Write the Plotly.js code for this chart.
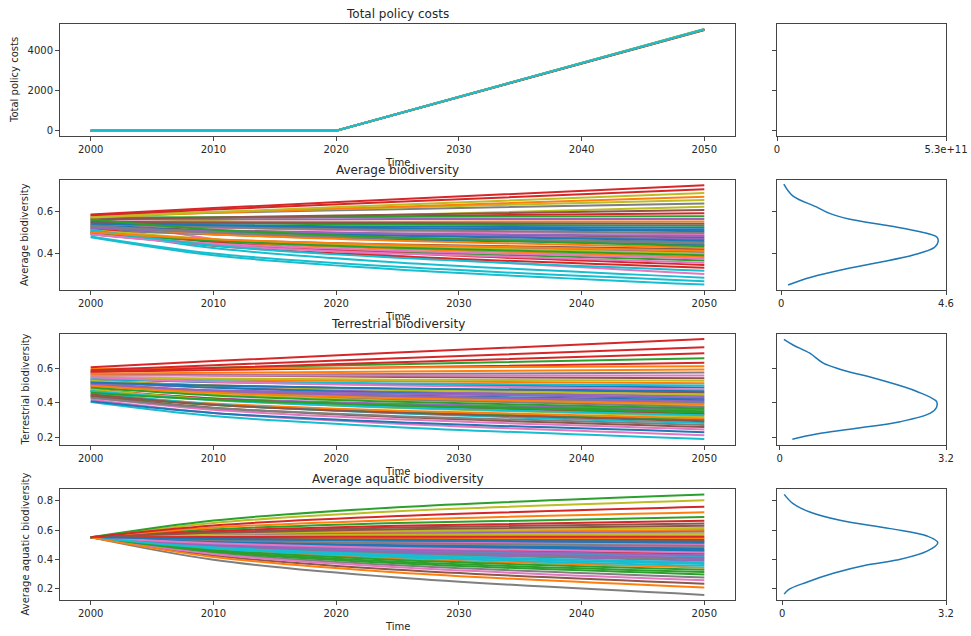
<!DOCTYPE html>
<html>
<head>
<meta charset="utf-8">
<script src="https://cdn.plot.ly/plotly-3.0.1.min.js"></script>
<style>
  html, body { margin: 0; padding: 0; background: #ffffff; }
  #chart { width: 971px; height: 636px; }
</style>
</head>
<body>
<div id="chart"></div>
<script>
// ---- Scenario outcomes over time ----
const years = [2000, 2010, 2025, 2050];

// Total policy costs (one row per scenario: 2000, 2020, 2050)
const costYears = [2000, 2020, 2050];
const costLines = [
  [0, 0, 4985], [0, 0, 4995], [0, 0, 5005], [0, 0, 5010], [0, 0, 5020],
  [0, 0, 5025], [0, 0, 5030], [0, 0, 5035], [0, 0, 5040], [0, 0, 5030]
];

// Average biodiversity per scenario (2000, 2010, 2025, 2050)
const avgBioLines = [
  [0.520, 0.490, 0.466, 0.440], [0.550, 0.550, 0.550, 0.551], [0.490, 0.443, 0.406, 0.366], [0.560, 0.567, 0.576, 0.590],
  [0.500, 0.464, 0.435, 0.405], [0.530, 0.509, 0.493, 0.475], [0.570, 0.468, 0.388, 0.302], [0.510, 0.489, 0.472, 0.454],
  [0.540, 0.558, 0.582, 0.620], [0.476, 0.391, 0.324, 0.252], [0.530, 0.523, 0.518, 0.512], [0.500, 0.456, 0.420, 0.383],
  [0.550, 0.542, 0.536, 0.530], [0.520, 0.454, 0.401, 0.345], [0.560, 0.561, 0.562, 0.563], [0.490, 0.463, 0.442, 0.419],
  [0.540, 0.521, 0.505, 0.489], [0.580, 0.592, 0.609, 0.636], [0.510, 0.467, 0.434, 0.398], [0.480, 0.399, 0.336, 0.268],
  [0.550, 0.533, 0.519, 0.504], [0.530, 0.490, 0.459, 0.426], [0.570, 0.571, 0.573, 0.576], [0.500, 0.436, 0.386, 0.332],
  [0.520, 0.500, 0.485, 0.468], [0.560, 0.570, 0.583, 0.605], [0.490, 0.446, 0.412, 0.375], [0.540, 0.523, 0.510, 0.496],
  [0.580, 0.596, 0.617, 0.652], [0.510, 0.425, 0.357, 0.285], [0.530, 0.504, 0.483, 0.461], [0.570, 0.592, 0.621, 0.668],
  [0.500, 0.459, 0.426, 0.391], [0.580, 0.607, 0.644, 0.703], [0.520, 0.506, 0.494, 0.482], [0.550, 0.546, 0.543, 0.540],
  [0.490, 0.439, 0.399, 0.356], [0.530, 0.498, 0.474, 0.447], [0.570, 0.595, 0.630, 0.685], [0.510, 0.437, 0.379, 0.318],
  [0.540, 0.533, 0.527, 0.521], [0.500, 0.467, 0.440, 0.412], [0.560, 0.512, 0.474, 0.433], [0.584, 0.614, 0.656, 0.722]
];

// Terrestrial biodiversity per scenario
const terrBioLines = [
  [0.500, 0.468, 0.443, 0.416], [0.550, 0.537, 0.526, 0.515], [0.440, 0.388, 0.346, 0.302], [0.580, 0.592, 0.608, 0.634],
  [0.470, 0.428, 0.395, 0.360], [0.530, 0.503, 0.482, 0.459], [0.420, 0.341, 0.279, 0.212], [0.560, 0.564, 0.569, 0.577],
  [0.490, 0.450, 0.418, 0.384], [0.406, 0.324, 0.259, 0.190], [0.540, 0.521, 0.506, 0.490], [0.450, 0.397, 0.355, 0.311],
  [0.590, 0.605, 0.626, 0.660], [0.480, 0.425, 0.382, 0.336], [0.520, 0.490, 0.466, 0.441], [0.570, 0.560, 0.552, 0.544],
  [0.430, 0.360, 0.305, 0.246], [0.510, 0.468, 0.435, 0.400], [0.550, 0.542, 0.536, 0.529], [0.460, 0.393, 0.340, 0.283],
  [0.530, 0.490, 0.458, 0.424], [0.600, 0.603, 0.607, 0.614], [0.470, 0.422, 0.384, 0.344], [0.580, 0.604, 0.637, 0.690],
  [0.500, 0.474, 0.454, 0.432], [0.440, 0.372, 0.318, 0.260], [0.560, 0.560, 0.560, 0.560], [0.520, 0.465, 0.422, 0.376],
  [0.480, 0.419, 0.371, 0.320], [0.540, 0.526, 0.514, 0.502], [0.410, 0.342, 0.288, 0.230], [0.570, 0.576, 0.583, 0.595],
  [0.490, 0.444, 0.407, 0.368], [0.590, 0.620, 0.660, 0.725], [0.510, 0.471, 0.441, 0.408], [0.450, 0.390, 0.343, 0.293],
  [0.550, 0.523, 0.502, 0.479], [0.430, 0.370, 0.323, 0.272], [0.530, 0.500, 0.476, 0.450], [0.470, 0.416, 0.373, 0.328],
  [0.520, 0.501, 0.485, 0.469], [0.500, 0.459, 0.427, 0.392], [0.460, 0.419, 0.387, 0.352], [0.608, 0.644, 0.694, 0.773]
];

// Average aquatic biodiversity per scenario
const aquaBioLines = [
  [0.550, 0.513, 0.484, 0.455], [0.550, 0.570, 0.586, 0.601], [0.550, 0.457, 0.383, 0.312], [0.550, 0.545, 0.540, 0.536],
  [0.550, 0.487, 0.437, 0.389], [0.550, 0.587, 0.617, 0.646], [0.550, 0.523, 0.502, 0.482], [0.550, 0.443, 0.358, 0.275],
  [0.550, 0.556, 0.561, 0.565], [0.550, 0.499, 0.458, 0.419], [0.550, 0.534, 0.521, 0.509], [0.550, 0.469, 0.404, 0.342],
  [0.550, 0.605, 0.648, 0.690], [0.550, 0.506, 0.471, 0.437], [0.550, 0.565, 0.577, 0.588], [0.550, 0.426, 0.327, 0.232],
  [0.550, 0.531, 0.515, 0.500], [0.550, 0.491, 0.444, 0.399], [0.550, 0.575, 0.596, 0.615], [0.550, 0.479, 0.422, 0.367],
  [0.550, 0.520, 0.496, 0.473], [0.550, 0.548, 0.547, 0.545], [0.550, 0.463, 0.395, 0.328], [0.550, 0.594, 0.630, 0.664],
  [0.550, 0.502, 0.465, 0.428], [0.550, 0.541, 0.534, 0.527], [0.550, 0.435, 0.344, 0.255], [0.550, 0.527, 0.509, 0.491],
  [0.550, 0.560, 0.568, 0.576], [0.550, 0.483, 0.430, 0.378], [0.550, 0.516, 0.490, 0.464], [0.550, 0.617, 0.670, 0.722],
  [0.550, 0.451, 0.372, 0.295], [0.550, 0.552, 0.554, 0.555], [0.550, 0.495, 0.451, 0.409], [0.550, 0.581, 0.606, 0.630],
  [0.550, 0.509, 0.477, 0.446], [0.550, 0.396, 0.274, 0.155], [0.550, 0.649, 0.729, 0.805], [0.550, 0.474, 0.414, 0.355],
  [0.550, 0.538, 0.528, 0.518], [0.550, 0.415, 0.309, 0.205], [0.550, 0.665, 0.757, 0.845], [0.550, 0.632, 0.697, 0.760]
];

// Kernel density of the end-state values (value on y, density on x)
const avgBioKdeValue   = [0.728, 0.671, 0.620, 0.589, 0.561, 0.529, 0.502, 0.476, 0.455, 0.428, 0.392, 0.352, 0.313, 0.281, 0.250];
const avgBioKdeDensity = [0.07, 0.33, 0.98, 1.35, 1.92, 3.04, 3.88, 4.35, 4.38, 4.28, 3.69, 2.57, 1.45, 0.70, 0.19];

const terrBioKdeValue   = [0.771, 0.738, 0.690, 0.632, 0.597, 0.535, 0.467, 0.408, 0.375, 0.341, 0.291, 0.252, 0.219, 0.189];
const terrBioKdeDensity = [0.083, 0.26, 0.58, 0.84, 1.16, 1.93, 2.64, 3.02, 3.02, 2.90, 2.32, 1.48, 0.71, 0.245];

const aquaBioKdeValue   = [0.845, 0.781, 0.724, 0.667, 0.610, 0.559, 0.514, 0.455, 0.394, 0.360, 0.303, 0.242, 0.190, 0.160];
const aquaBioKdeDensity = [0.04, 0.215, 0.54, 1.13, 2.11, 2.83, 3.04, 2.83, 2.24, 1.65, 1.00, 0.48, 0.12, 0.04];

// Axis labels and titles
const panelTitles = ['Total policy costs', 'Average biodiversity', 'Terrestrial biodiversity', 'Average aquatic biodiversity'];
const yearTicks = [2000, 2010, 2020, 2030, 2040, 2050];
const costTicks = [0, 2000, 4000];
const avgBioTicks = [0.4, 0.6];
const terrBioTicks = [0.2, 0.4, 0.6];
const aquaBioTicks = [0.2, 0.4, 0.6, 0.8];
const densityMax = [5.3e11, 4.6, 3.2, 3.2];
const densityMaxLabel = ['5.3e+11', '4.6', '3.2', '3.2'];

// ---- Drawing ----
const tab10 = ['#1f77b4', '#ff7f0e', '#2ca02c', '#d62728', '#9467bd',
               '#8c564b', '#e377c2', '#7f7f7f', '#bcbd22', '#17becf'];
const W = 971, H = 636;
const FONT = 'DejaVu Sans, Arial, sans-serif';
const TXT = '#262626';

const traces = [];
function addLines(xs, lines, xa, ya, width, spline) {
  lines.forEach((vals, i) => {
    traces.push({
      type: 'scatter', mode: 'lines', x: xs, y: vals,
      xaxis: xa, yaxis: ya, hoverinfo: 'skip', showlegend: false,
      line: { color: tab10[i % 10], width: width, shape: spline ? 'spline' : 'linear', smoothing: 0.9 }
    });
  });
}
function addKde(vals, dens, xa, ya) {
  traces.push({
    type: 'scatter', mode: 'lines', x: dens, y: vals,
    xaxis: xa, yaxis: ya, hoverinfo: 'skip', showlegend: false,
    line: { color: '#1f77b4', width: 1.5, shape: 'spline', smoothing: 1 }
  });
}

addLines(costYears, costLines, 'x', 'y', 2, false);
traces.push({ type: 'scatter', mode: 'lines', x: [], y: [], xaxis: 'x2', yaxis: 'y2', showlegend: false });
addLines(years, avgBioLines, 'x3', 'y3', 2, true);
addKde(avgBioKdeValue, avgBioKdeDensity, 'x4', 'y4');
addLines(years, terrBioLines, 'x5', 'y5', 2, true);
addKde(terrBioKdeValue, terrBioKdeDensity, 'x6', 'y6');
addLines(years, aquaBioLines, 'x7', 'y7', 2, true);
addKde(aquaBioKdeValue, aquaBioKdeDensity, 'x8', 'y8');

// pixel boxes of the four rows (top, bottom) and the two columns (left, right)
const rows = [[24, 136], [180, 290], [334, 445], [489, 600]];
const leftCol = [60, 735], rightCol = [777, 946];
const yRanges = [[-265, 5290], [0.2265, 0.747], [0.155, 0.802], [0.12, 0.882]];
const xDensityMin = [0, -0.12, -0.05, -0.1];
const yTickSets = [costTicks, avgBioTicks, terrBioTicks, aquaBioTicks];

function baseAxis() {
  return {
    showline: true, mirror: true, linecolor: '#444', linewidth: 1,
    ticks: 'outside', ticklen: 4, tickwidth: 1, tickcolor: '#444',
    showgrid: false, zeroline: false, fixedrange: true,
    tickfont: { family: FONT, size: 10, color: TXT }
  };
}

const layout = {
  width: W, height: H,
  margin: { l: 0, r: 0, t: 0, b: 0 },
  paper_bgcolor: '#ffffff', plot_bgcolor: '#ffffff',
  showlegend: false,
  annotations: []
};

rows.forEach((r, k) => {
  const yd = [1 - r[1] / H, 1 - r[0] / H];
  const nL = 2 * k + 1, nR = 2 * k + 2;
  const sfx = n => (n === 1 ? '' : String(n));

  layout['xaxis' + sfx(nL)] = Object.assign(baseAxis(), {
    domain: [leftCol[0] / W, leftCol[1] / W], range: [1997.5, 2052.5],
    tickmode: 'array', tickvals: yearTicks, anchor: 'y' + sfx(nL)
  });
  layout['yaxis' + sfx(nL)] = Object.assign(baseAxis(), {
    domain: yd, range: yRanges[k], tickmode: 'array', tickvals: yTickSets[k],
    anchor: 'x' + sfx(nL)
  });
  layout['xaxis' + sfx(nR)] = Object.assign(baseAxis(), {
    domain: [rightCol[0] / W, rightCol[1] / W], range: [xDensityMin[k], densityMax[k]],
    tickmode: 'array', tickvals: [0, densityMax[k]], ticktext: ['0', densityMaxLabel[k]],
    anchor: 'y' + sfx(nR)
  });
  layout['yaxis' + sfx(nR)] = Object.assign(baseAxis(), {
    domain: yd, range: yRanges[k], tickmode: 'array', tickvals: yTickSets[k],
    showticklabels: false, anchor: 'x' + sfx(nR)
  });

  const cx = (leftCol[0] + leftCol[1]) / 2 / W;
  // panel title
  layout.annotations.push({
    text: panelTitles[k], xref: 'paper', yref: 'paper',
    x: cx, y: 1 - (r[0] - 10) / H, xanchor: 'center', yanchor: 'middle',
    showarrow: false, font: { family: FONT, size: 12, color: TXT }
  });
  // time label
  layout.annotations.push({
    text: 'Time', xref: 'paper', yref: 'paper',
    x: cx, y: 1 - (r[1] + 26) / H, xanchor: 'center', yanchor: 'middle',
    showarrow: false, font: { family: FONT, size: 10, color: TXT }
  });
  // y label
  layout.annotations.push({
    text: panelTitles[k], xref: 'paper', yref: 'paper', textangle: -90,
    x: (k === 0 ? 15 : 25) / W, y: 1 - (r[0] + r[1]) / 2 / H,
    xanchor: 'center', yanchor: 'middle',
    showarrow: false, font: { family: FONT, size: 10, color: TXT }
  });
});

Plotly.newPlot('chart', traces, layout, { staticPlot: true, displayModeBar: false });
</script>
</body>
</html>
